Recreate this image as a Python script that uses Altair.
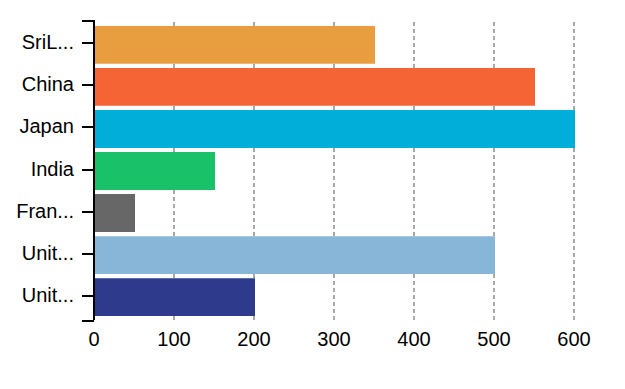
import altair as alt
import pandas as pd

countries = ["SriLanka", "China", "Japan", "India", "France", "United Kingdom", "United States"]
values = [350, 550, 600, 150, 50, 500, 200]
colors = ["#E89D3E", "#F46434", "#00AEDA", "#19C269", "#676767", "#87B6D8", "#2E3A8C"]

df = pd.DataFrame({"country": countries, "value": values})

label_expr = "length(datum.label) > 5 ? substring(datum.label, 0, 4) + '...' : datum.label"

bars = alt.Chart(df).mark_bar().encode(
    x=alt.X("value:Q",
            scale=alt.Scale(domain=[0, 600], nice=False, zero=True),
            axis=alt.Axis(values=[0, 100, 200, 300, 400, 500, 600], title=None,
                          domain=False, ticks=False, grid=True, labelFlush=False,
                          gridDash=[4, 3], gridColor="#a8a8a8", gridWidth=2,
                          translate=-1,
                          labelFontSize=20, labelColor="#000", labelFont="Liberation Sans",
                          labelPadding=10)),
    y=alt.Y("country:N", sort=countries,
            scale=alt.Scale(paddingInner=0.1, paddingOuter=0.12),
            axis=alt.Axis(title=None, domainColor="#000", domainWidth=2,
                          tickColor="#000", tickWidth=2, tickSize=12,
                          translate=-1, zindex=1,
                          labelFontSize=20, labelColor="#000", labelFont="Liberation Sans",
                          labelPadding=8, labelExpr=label_expr, grid=False)),
    color=alt.Color("country:N", scale=alt.Scale(domain=countries, range=colors), legend=None),
)

outer_top = alt.Chart(alt.Data(values=[{"p": "top"}])).mark_rule(
    color="#000", strokeWidth=2
).encode(x=alt.value(-13), x2=alt.value(-1), y=alt.value(0))

outer_bottom = alt.Chart(alt.Data(values=[{"p": "bottom"}])).mark_rule(
    color="#000", strokeWidth=2
).encode(x=alt.value(-13), x2=alt.value(-1), y=alt.value(300))

chart = alt.layer(bars, outer_top, outer_bottom).properties(
    width=480, height=300,
    autosize=alt.AutoSizeParams(type="none"),
    padding={"left": 87, "top": 13, "right": 30, "bottom": 50},
).configure_view(stroke=None)

chart.save("out.html", embed_options={"renderer": "svg", "actions": False})
